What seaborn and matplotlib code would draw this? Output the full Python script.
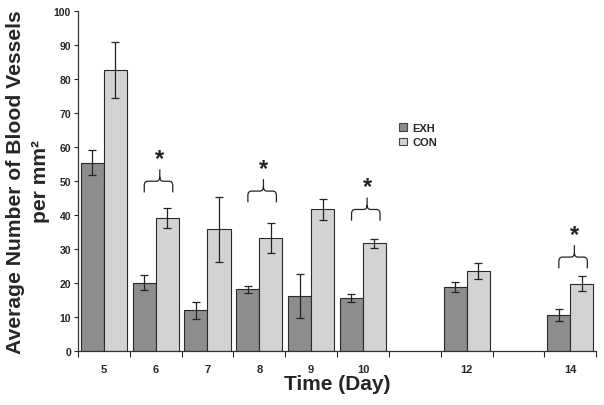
import numpy as np
import pandas as pd
import matplotlib
matplotlib.use("Agg")
import matplotlib.pyplot as plt
from matplotlib.path import Path
from matplotlib.patches import PathPatch, Patch
import seaborn as sns

# days on the axis (11 and 13 are empty slots)
DAY_ORDER = ["5", "6", "7", "8", "9", "10", "11", "12", "13", "14"]
DAYS = ["5", "6", "7", "8", "9", "10", "12", "14"]
EXH_MEAN = [55.4, 20.0, 12.0, 18.1, 16.1, 15.6, 18.7, 10.5]
EXH_ERR = [3.7, 2.2, 2.5, 1.1, 6.4, 1.3, 1.5, 1.7]
CON_MEAN = [82.6, 39.1, 35.8, 33.2, 41.6, 31.6, 23.6, 19.8]
CON_ERR = [8.1, 3.0, 9.6, 4.3, 3.1, 1.4, 2.4, 2.2]
TICK_LABELS = ["5", "6", "7", "8", "9", "10", "", "12", "", "14"]

# significance braces: day, level of brace feet
SIG_DAYS = ["6", "8", "10", "14"]
SIG_LEVEL = [46.6, 43.7, 38.3, 24.3]

GROUPS = ["EXH", "CON"]
COLORS = ["#8d8d8d", "#d3d3d3"]


def draw_brace(ax, xc, y0):
    """curly brace opening downwards, feet at y0"""
    x0, x1 = xc - 0.22, xc + 0.33
    xm = xc + 0.08
    yb = y0 + 3.3
    ys = yb + 3.5
    dx, dy = 0.07, 1.3
    verts = [(x0, y0), (x0, yb - dy), (x0, yb), (x0 + dx, yb),
             (xm - dx, yb), (xm, yb), (xm, yb + dy), (xm, ys),
             (xm, yb + dy), (xm, yb), (xm + dx, yb),
             (x1 - dx, yb), (x1, yb), (x1, yb - dy), (x1, y0)]
    codes = [Path.MOVETO, Path.LINETO, Path.CURVE3, Path.CURVE3,
             Path.LINETO, Path.CURVE3, Path.CURVE3, Path.LINETO,
             Path.MOVETO, Path.CURVE3, Path.CURVE3,
             Path.LINETO, Path.CURVE3, Path.CURVE3, Path.LINETO]
    ax.add_patch(PathPatch(Path(verts, codes), fill=False, lw=0.9, ec="#222222"))
    ax.text(xm, ys + 1.2, "*", ha="center", va="baseline", fontsize=17,
            fontweight="bold", color="#222222")


sns.set_style("ticks")
plt.rcParams["font.family"] = ["Liberation Sans", "DejaVu Sans"]

df = pd.DataFrame({
    "day": DAYS * 2,
    "group": ["EXH"] * len(DAYS) + ["CON"] * len(DAYS),
    "value": EXH_MEAN + CON_MEAN,
})

fig = plt.figure(figsize=(6.04, 4.06), dpi=100)
ax = fig.add_axes([0.129, 0.133, 0.858, 0.838])

sns.barplot(data=df, x="day", y="value", hue="group", order=DAY_ORDER,
            hue_order=GROUPS, palette=COLORS, width=0.89, errorbar=None,
            edgecolor="#2a2a2a", linewidth=0.8, saturation=1, ax=ax, legend=False)

for cont, errs in zip(ax.containers, [EXH_ERR, CON_ERR]):
    xs = [p.get_x() + p.get_width() / 2 for p in cont]
    ys = [p.get_height() for p in cont]
    ax.errorbar(xs, ys, yerr=errs, fmt="none", ecolor="#222222",
                elinewidth=0.9, capsize=3.2, capthick=0.9)

for d, lvl in zip(SIG_DAYS, SIG_LEVEL):
    draw_brace(ax, DAY_ORDER.index(d), lvl)

ax.set_ylim(0, 100)
ax.set_xlim(-0.5, len(DAY_ORDER) - 0.5)
ax.set_yticks(np.arange(0, 101, 10))
ax.set_xticks(range(len(DAY_ORDER)))
ax.set_xticklabels(TICK_LABELS)
ax.set_xticks(np.arange(-0.5, len(DAY_ORDER), 1), minor=True)
ax.tick_params(axis="x", which="major", length=0, pad=9, labelsize=8)
ax.tick_params(axis="x", which="minor", length=4, width=0.8, direction="out")
ax.tick_params(axis="y", length=3, width=0.8, labelsize=7.5, pad=2)
for lab in ax.get_xticklabels() + ax.get_yticklabels():
    lab.set_fontweight("bold")
for s in ["left", "bottom"]:
    ax.spines[s].set_linewidth(0.9)
    ax.spines[s].set_color("#333333")
sns.despine(ax=ax)

ax.set_xlabel("Time (Day)", fontsize=15, fontweight="bold", labelpad=0)
ax.set_ylabel("Average Number of Blood Vessels\nper mm²", fontsize=15.2,
              fontweight="bold", linespacing=1.35, labelpad=3)

handles = [Patch(facecolor=c, edgecolor="#444444", lw=0.8) for c in COLORS]
ax.legend(handles, GROUPS, loc="upper left", bbox_to_anchor=(0.6, 0.7),
          frameon=False, handlelength=0.7, handleheight=0.7, handletextpad=0.5,
          labelspacing=0.4, prop={"weight": "bold", "size": 8})

fig.savefig("out.png", dpi=100)
